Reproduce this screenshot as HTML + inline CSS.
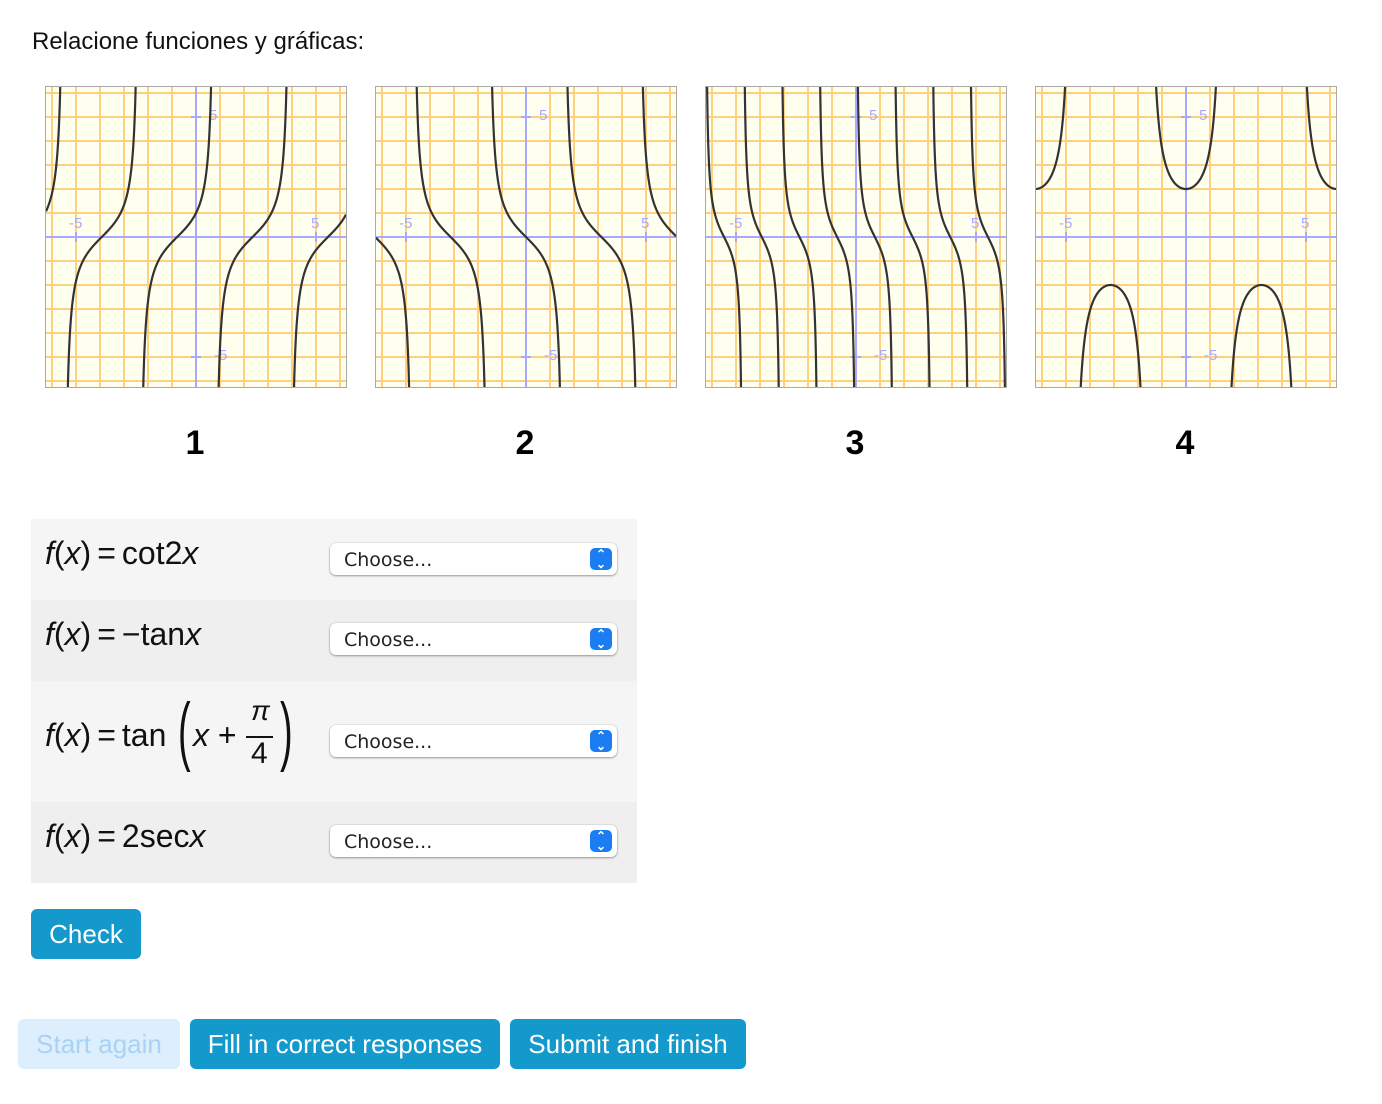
<!DOCTYPE html>
<html><head><meta charset="utf-8"><style>
body{margin:0;width:1382px;height:1104px;background:#fff;font-family:"Liberation Sans",sans-serif;position:relative;overflow:hidden}
.a{position:absolute}
.lbl{font-weight:bold;font-size:34px;width:40px;text-align:center;top:424px}
.row{position:absolute;left:31px;width:606px}
.fx{position:absolute;left:14px;font-family:"Liberation Sans",sans-serif;font-size:32px;color:#111;white-space:nowrap}
.fx i{font-style:italic}
.eq{margin:0 6px}
.sel{position:absolute;left:299px;width:287px;height:32px;background:#fff;border-radius:6px;box-shadow:0 1px 2px rgba(0,0,0,.35),0 0 0 .5px rgba(0,0,0,.1)}
.sel span{position:absolute;left:14px;top:6px;color:#222;font-family:"DejaVu Sans",sans-serif;font-size:19px}
.sel b{position:absolute;right:5px;top:5px;width:22px;height:22px;border-radius:5px;background:#1c7cf2;color:#fff;font-size:12px;line-height:10px;text-align:center;padding-top:1px;box-sizing:border-box}
.btn{position:absolute;height:50px;border-radius:6px;background:#1499cc;color:#fff;font-size:26px;line-height:50px;text-align:center}
</style></head><body>
<div class="a" style="left:32px;top:28px;font-size:24px;color:#111">Relacione funciones y gráficas:</div>
<div id="g"></div>
<div class="a lbl" style="left:175px">1</div>
<div class="a lbl" style="left:505px">2</div>
<div class="a lbl" style="left:835px">3</div>
<div class="a lbl" style="left:1165px">4</div>

<div class="row" style="top:519px;height:81px;background:#f5f5f5"><div class="fx" style="top:16px"><i>f</i>(<i>x</i>)<span class="eq">=</span>cot2<i>x</i></div><div class="sel" style="top:24px"><span>Choose...</span><b>⌃<br>⌄</b></div></div>
<div class="row" style="top:600px;height:81px;background:#efefef"><div class="fx" style="top:16px"><i>f</i>(<i>x</i>)<span class="eq">=</span>−tan<i>x</i></div><div class="sel" style="top:23px"><span>Choose...</span><b>⌃<br>⌄</b></div></div>
<div class="row" style="top:681px;height:121px;background:#f5f5f5">
 <div class="fx" style="top:36px"><i>f</i>(<i>x</i>)<span class="eq">=</span>tan</div>
 <div class="fx" style="left:147px;top:6px;font-size:76px;font-weight:100;transform:scaleX(0.5);transform-origin:left">(</div>
 <div class="fx" style="left:162px;top:36px"><i>x</i> +</div>
 <div class="fx" style="left:220px;top:14px;font-size:28px"><i>π</i></div>
 <div class="a" style="left:215px;top:55px;width:27px;height:2px;background:#111"></div>
 <div class="fx" style="left:220px;top:56px;font-size:30px">4</div>
 <div class="fx" style="left:249px;top:6px;font-size:76px;font-weight:100;transform:scaleX(0.5);transform-origin:left">)</div>
 <div class="sel" style="top:44px"><span>Choose...</span><b>⌃<br>⌄</b></div></div>
<div class="row" style="top:802px;height:81px;background:#efefef"><div class="fx" style="top:16px"><i>f</i>(<i>x</i>)<span class="eq">=</span>2sec<i>x</i></div><div class="sel" style="top:23px"><span>Choose...</span><b>⌃<br>⌄</b></div></div>

<div class="btn" style="left:31px;top:909px;width:110px">Check</div>
<div class="btn" style="left:18px;top:1019px;width:162px;background:#ddeefd;color:#a9d2f7">Start again</div>
<div class="btn" style="left:190px;top:1019px;width:310px">Fill in correct responses</div>
<div class="btn" style="left:510px;top:1019px;width:236px">Submit and finish</div>

<script>
var fns=[function(x){return Math.tan(x+Math.PI/4)},function(x){return -Math.tan(x)},function(x){return 1/Math.tan(2*x)},function(x){return 2/Math.cos(x)}];
var lefts=[45,375,705,1035],h='';
for(var k=0;k<4;k++){
 var s='<svg class="a" style="left:'+lefts[k]+'px;top:86px" width="302" height="302" viewBox="0 0 302 302"><rect x="0.5" y="0.5" width="301" height="301" fill="#fffff0" stroke="#aaa"/>';
 for(var i=-6;i<=6;i++){var p=151+i*24;if(i)s+='<line x1="'+p+'" y1="1" x2="'+p+'" y2="301" stroke="#ffd080" stroke-width="2"/><line x1="1" y1="'+p+'" x2="301" y2="'+p+'" stroke="#ffd080" stroke-width="2"/>';}
 s+='<line x1="151" y1="1" x2="151" y2="301" stroke="#a8a8ff" stroke-width="2"/><line x1="1" y1="151" x2="301" y2="151" stroke="#a8a8ff" stroke-width="2"/>';
 s+='<g fill="#a8a8ff" font-size="15" font-family="Liberation Sans"><text x="24" y="142">-5</text><text x="266" y="142">5</text><text x="164" y="34">5</text><text x="169" y="274">-5</text></g>';
 s+='<g stroke="#a8a8ff" stroke-width="2"><line x1="31" y1="146" x2="31" y2="156"/><line x1="271" y1="146" x2="271" y2="156"/><line x1="146" y1="31" x2="156" y2="31"/><line x1="146" y1="271" x2="156" y2="271"/></g>';
 var d='',pen=false,prev=null;
 for(var px=1;px<=301;px+=0.25){var x=(px-151)/24,y=fns[k](x);var py=151-y*24;
  if(!isFinite(py)||Math.abs(py-151)>400||(prev!==null&&Math.abs(py-prev)>300)){pen=false;prev=isFinite(py)?py:null;continue;}
  py=Math.max(-50,Math.min(350,py));
  d+=(pen?'L':'M')+px.toFixed(2)+' '+py.toFixed(2);pen=true;prev=py;}
 s+='<clipPath id="c'+k+'"><rect x="1" y="1" width="300" height="300"/></clipPath><path clip-path="url(#c'+k+')" d="'+d+'" fill="none" stroke="#333" stroke-width="2.2"/></svg>';
 h+=s;}
document.getElementById('g').innerHTML=h;
</script>
</body></html>
